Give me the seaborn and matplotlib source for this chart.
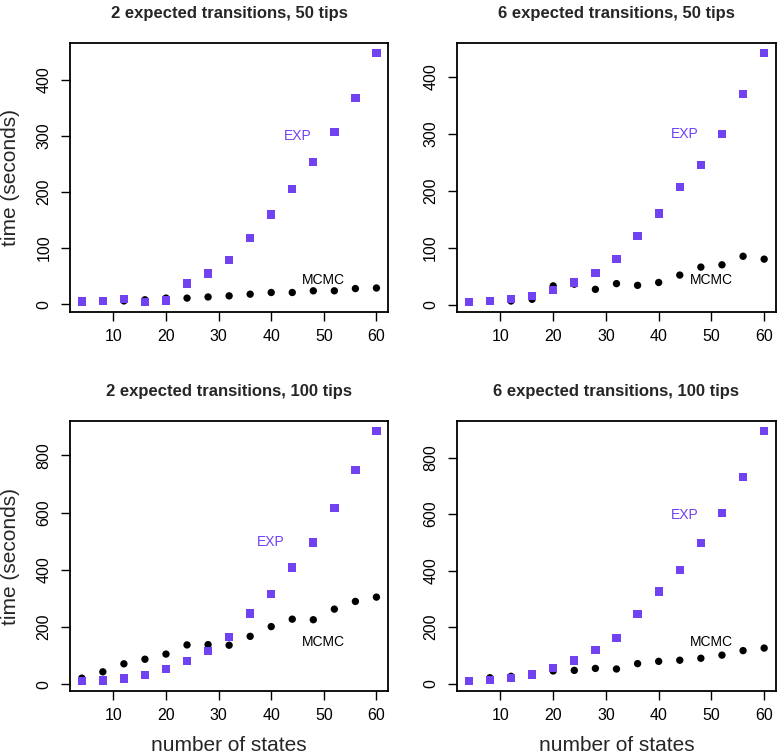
import numpy as np
import pandas as pd
import seaborn as sns
import matplotlib.pyplot as plt

sns.set_style("ticks")
plt.rcParams['font.family'] = ['Liberation Sans', 'DejaVu Sans']

states = [4, 8, 12, 16, 20, 24, 28, 32, 36, 40, 44, 48, 52, 56, 60]

titles = ["2 expected transitions, 50 tips", "6 expected transitions, 50 tips",
          "2 expected transitions, 100 tips", "6 expected transitions, 100 tips"]

exp_2_50 = [4.8, 6, 9.5, 4, 6.5, 37, 55, 79, 118, 160, 205, 253, 307, 367, 448]
mcmc_2_50 = [5, 6, 6, 8, 11, 11, 13, 15, 18, 21, 21, 24, 24, 28, 29]
exp_6_50 = [4.7, 6.5, 10.5, 15, 26, 39, 56, 80, 120, 160, 206, 245, 300, 370, 442]
mcmc_6_50 = [5, 6, 6.5, 9.5, 33, 36, 27, 37, 34, 39, 52, 66, 70, 85, 80]
exp_2_100 = [12, 14, 21, 34, 55, 82, 116, 166, 248, 316, 408, 496, 616, 749, 885]
mcmc_2_100 = [22, 44, 72, 88, 106, 138, 139, 137, 168, 202, 228, 226, 263, 290, 305]
exp_6_100 = [9.5, 13, 19, 33, 56, 82, 118, 162, 246, 326, 402, 498, 604, 732, 894]
mcmc_6_100 = [10, 21, 26, 30, 45, 47, 54, 52, 71, 79, 83, 90, 101, 117, 126]

exp_series = [exp_2_50, exp_6_50, exp_2_100, exp_6_100]
mcmc_series = [mcmc_2_50, mcmc_6_50, mcmc_2_100, mcmc_6_100]

# label positions (x, y) in data units
exp_label_pos = [(45, 299), (45, 300), (40, 499), (45, 598)]
mcmc_label_pos = [(50, 43), (50, 44), (50, 149), (50, 148)]

yticks = [[0, 100, 200, 300, 400]] * 2 + [[0, 200, 400, 600, 800]] * 2

purple = "#7142F2"

fig = plt.figure(figsize=(7.78, 7.56), dpi=100)
boxes = [[0.090, 0.5873, 0.409, 0.356], [0.5874, 0.5873, 0.410, 0.356],
         [0.090, 0.086, 0.409, 0.357], [0.5874, 0.086, 0.410, 0.357]]

for i in range(4):
    ax = fig.add_axes(boxes[i])
    df = pd.DataFrame({"states": states, "EXP": exp_series[i], "MCMC": mcmc_series[i]})
    sns.scatterplot(data=df, x="states", y="MCMC", ax=ax, color="black", marker="o",
                    s=28, edgecolor="none", zorder=3)
    sns.scatterplot(data=df, x="states", y="EXP", ax=ax, color=purple, marker="s",
                    s=36, edgecolor="none", zorder=4)

    lo, hi = min(exp_series[i]), max(exp_series[i])
    pad = 0.04 * (hi - lo)
    ax.set_ylim(lo - pad, hi + pad)
    ax.set_xlim(4 - 0.04 * 56, 60 + 0.04 * 56)
    ax.set_xticks([10, 20, 30, 40, 50, 60])
    ax.set_yticks(yticks[i])
    ax.tick_params(axis="both", length=6.5, width=1, labelsize=11.5, color="black",
                   labelcolor="black")
    ax.tick_params(axis="x", pad=6)
    ax.tick_params(axis="y", pad=7)
    for lab in ax.get_yticklabels():
        lab.set_rotation(90)
        lab.set_va("center")
    for sp in ax.spines.values():
        sp.set_visible(True)
        sp.set_linewidth(1.3)
        sp.set_color("black")

    ax.text(*exp_label_pos[i], "EXP", color=purple, fontsize=10, ha="center", va="center")
    ax.text(*mcmc_label_pos[i], "MCMC", color="black", fontsize=10, ha="center", va="center")
    ax.set_title(titles[i], fontsize=12, fontweight="bold", pad=18)

    if i % 2 == 0:
        ax.set_ylabel("time (seconds)", fontsize=15, labelpad=12)
    else:
        ax.set_ylabel("")
    if i >= 2:
        ax.set_xlabel("number of states", fontsize=15, labelpad=9)
    else:
        ax.set_xlabel("")

fig.savefig("out.png", dpi=100)
